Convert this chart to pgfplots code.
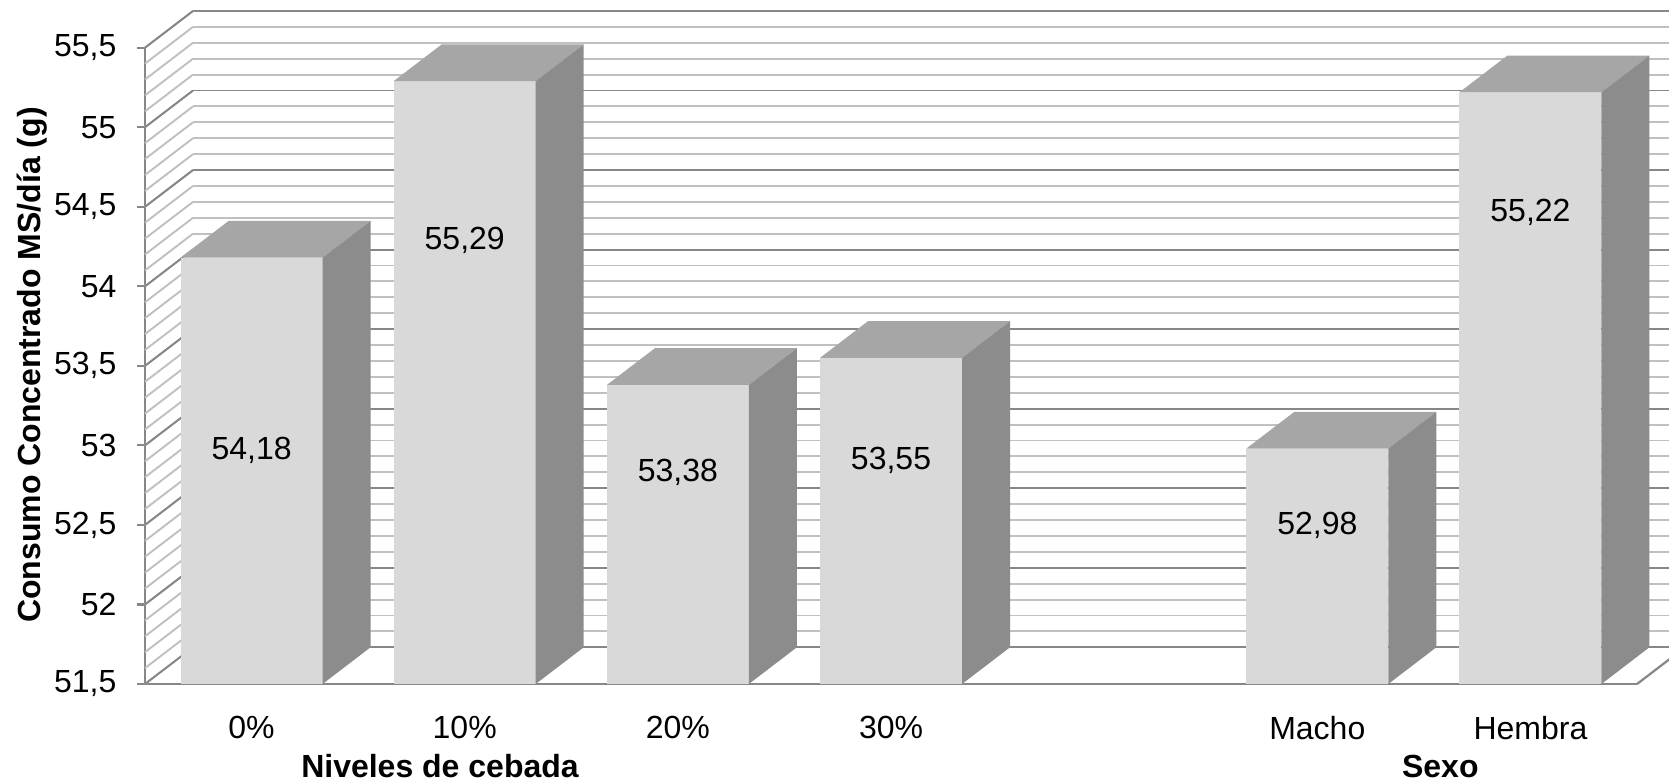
\documentclass[border=0pt]{standalone}
\usepackage{fontspec}
\setmainfont{Liberation Sans}
\usepackage{pgfplots}
\pgfplotsset{compat=1.18}
\usepackage{pgfplotstable}

\definecolor{barfront}{HTML}{D9D9D9}
\definecolor{bartop}{HTML}{A6A6A6}
\definecolor{barside}{HTML}{8C8C8C}
\definecolor{gridmajor}{HTML}{878787}
\definecolor{gridminor}{HTML}{C0C0C0}

% depth of the 3-D boxes and of the walls
\newlength\depthx \setlength\depthx{15pt}
\newlength\depthy \setlength\depthy{11.47pt}
\newlength\halfbar \setlength\halfbar{22.19pt}
\newlength\yunit \setlength\yunit{49.71pt}
\newlength\barheight

\pgfdeclareplotmark{nothing}{}

% one 3-D box, drawn downwards from the top front edge of the bar
\newcommand\drawbox{%
  \pgfpathmoveto{\pgfpoint{-\halfbar}{-\barheight}}%
  \pgfpathlineto{\pgfpoint{\halfbar}{-\barheight}}%
  \pgfpathlineto{\pgfpoint{\halfbar}{0pt}}%
  \pgfpathlineto{\pgfpoint{-\halfbar}{0pt}}%
  \pgfpathclose
  \pgfsetfillcolor{barfront}\pgfusepath{fill}%
  \pgfpathmoveto{\pgfpoint{-\halfbar}{0pt}}%
  \pgfpathlineto{\pgfpoint{\halfbar}{0pt}}%
  \pgfpathlineto{\pgfpoint{\halfbar+\depthx}{\depthy}}%
  \pgfpathlineto{\pgfpoint{-\halfbar+\depthx}{\depthy}}%
  \pgfpathclose
  \pgfsetfillcolor{bartop}\pgfusepath{fill}%
  \pgfpathmoveto{\pgfpoint{\halfbar}{0pt}}%
  \pgfpathlineto{\pgfpoint{\halfbar}{-\barheight}}%
  \pgfpathlineto{\pgfpoint{\halfbar+\depthx}{\depthy-\barheight}}%
  \pgfpathlineto{\pgfpoint{\halfbar+\depthx}{\depthy}}%
  \pgfpathclose
  \pgfsetfillcolor{barside}\pgfusepath{fill}%
}

% pos: category slot, consumo: g MS/dia, labely: height of the value label
\pgfplotstableread{
pos consumo labely
0 54.18 52.91
1 55.29 54.23
2 53.38 52.77
3 53.55 52.85
5 52.98 52.44
6 55.22 54.41
}\bars

\begin{document}
\begin{tikzpicture}
\useasboundingbox (0,0) rectangle (521.5625pt,245pt);
\clip (0,0) rectangle (521.5625pt,245pt);
\begin{axis}[
  at={(45.3125pt,31.25pt)}, anchor=south west,
  x=66.607pt, y=\yunit,
  xmin=-0.5, xmax=6.5, ymin=51.5, ymax=55.5,
  clip=false,
  axis x line*=bottom, axis y line*=left,
  axis line style={draw=gridmajor, line width=0.7pt},
  xtick={0,1,2,3,5,6},
  xticklabels={0\%,10\%,20\%,30\%,Macho,Hembra},
  x tick style={draw=none},
  ytick={51.5,52,...,55.5},
  minor y tick num=4,
  y tick style={draw=gridmajor, line width=0.7pt},
  minor y tick style={draw=none},
  tick align=outside, major tick length=2.5pt,
  yticklabel style={inner sep=0pt, xshift=-6.25pt},
  xticklabel style={inner sep=0pt, yshift=-7.3pt},
  ymajorgrids, yminorgrids,
  major grid style={draw=gridmajor, line width=0.6pt, xshift=\depthx, yshift=\depthy},
  minor grid style={draw=gridminor, line width=0.6pt, xshift=\depthx, yshift=\depthy},
  /pgf/number format/.cd, use comma, assume math mode=true, /pgfplots/.cd,
]
% side wall
\pgfplotsinvokeforeach{0,...,40}{%
  \draw[gridminor, line width=0.6pt] (axis cs:-0.5,{51.5+0.1*#1}) -- ++(\depthx,\depthy);
}
\pgfplotsinvokeforeach{0,...,8}{%
  \draw[gridmajor, line width=0.6pt] (axis cs:-0.5,{51.5+0.5*#1}) -- ++(\depthx,\depthy);
}
% floor edge
\draw[gridmajor, line width=0.7pt] (axis cs:6.5,51.5) -- ++(\depthx,\depthy);

% 3-D bars
\addplot[scatter, only marks, mark=nothing,
  visualization depends on={rawy \as \barvalue},
  scatter/@pre marker code/.code={%
    \pgfmathsetlength\barheight{(\barvalue-51.5)*\yunit}%
    \drawbox
  },
  scatter/@post marker code/.code={},
] table[x=pos, y=consumo] {\bars};

% value labels
\addplot[scatter, only marks, mark=nothing, point meta=explicit,
  scatter/@pre marker code/.code={%
    \pgftext[base]{\pgfmathprintnumber[fixed,fixed zerofill,precision=2,use comma,assume math mode=true]{\pgfplotspointmeta}}%
  },
  scatter/@post marker code/.code={},
] table[x=pos, y=labely, meta=consumo] {\bars};
\end{axis}

\node[anchor=base, font=\bfseries] at (137.5pt,1.875pt) {Niveles de cebada};
\node[anchor=base, font=\bfseries] at (450.1pt,1.875pt) {Sexo};
\node[anchor=base, rotate=90, font=\bfseries] at (12.8pt,130.9pt) {Consumo Concentrado MS/día (g)};
\end{tikzpicture}
\end{document}
